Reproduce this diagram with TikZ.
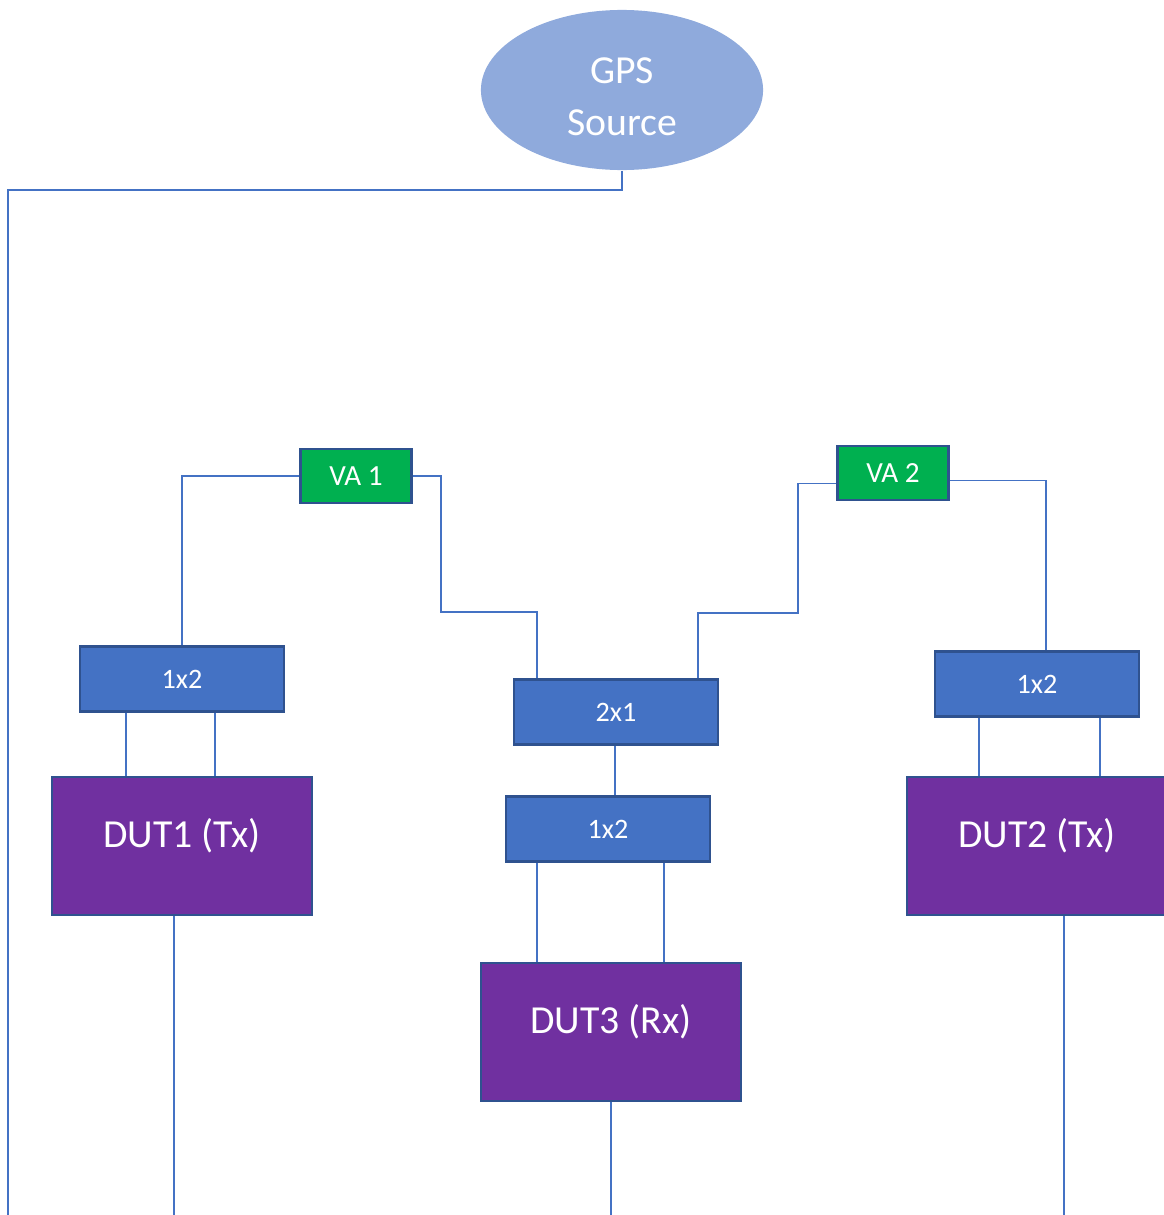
\documentclass[tikz,border=0pt]{standalone}
\usepackage{fontspec}
\setmainfont{Carlito}
\usepackage{tikz}
\usetikzlibrary{shapes.geometric,calc}
\definecolor{wireblue}{HTML}{4472C4}
\definecolor{edgeblue}{HTML}{2F528F}
\definecolor{srcblue}{HTML}{8FAADC}
\definecolor{vagreen}{HTML}{00B050}
\definecolor{dutpurple}{HTML}{7030A0}

\tikzset{
  wire/.style={wireblue,line width=.4pt},
  vabox/.style={draw=edgeblue,line width=.6pt,fill=vagreen,text=white,inner sep=0pt,minimum width=1.11cm,minimum height=.54cm,font=\fontsize{8.3}{10}\selectfont},
  splitbox/.style={draw=edgeblue,line width=.6pt,fill=wireblue,text=white,inner sep=0pt,minimum width=2.04cm,minimum height=.65cm,font=\fontsize{8}{10}\selectfont},
  dutbox/.style={draw=edgeblue,line width=.6pt,fill=dutpurple,text=white,inner sep=0pt,minimum width=2.59cm,minimum height=1.38cm,text height=8pt,text depth=7pt,font=\fontsize{11.3}{14}\selectfont}
}

\begin{document}
\begin{tikzpicture}[x=.01cm,y=-.01cm]
\useasboundingbox (0,0) rectangle (1163,1215);
\coordinate (bot) at (0,1215);
% source
\node[ellipse,fill=srcblue,inner sep=0pt,minimum width=2.82cm,minimum height=1.6cm,
  label={[text=white,align=center,yshift=-2pt,font=\fontsize{11.3}{14.8}\selectfont]center:GPS\\Source}] (gps) at (622,90) {};
\coordinate (gpsL) at (8,190);
\draw[wire] (gps.south) |- (gpsL) -- (gpsL |- bot);
% attenuators
\node[vabox] (va1) at (356,476) {VA 1};
\node[vabox] (va2) at (893,473) {VA 2};
% splitters / combiner
\node[splitbox] (splitL) at (182,679) {1x2};
\node[splitbox] (comb) at (616,712) {2x1};
\node[splitbox] (splitM) at (608,829) {1x2};
\node[splitbox] (splitR) at (1037,684) {1x2};
% devices
\node[dutbox] (dut1) at (182,846) {DUT1 (Tx)};
\node[dutbox] (dut3) at (611,1032) {DUT3 (Rx)};
\node[dutbox] (dut2) at (1037,846) {DUT2 (Tx)};
% VA 1 paths
\draw[wire] (va1.west) -| (splitL.north);
\coordinate (k1) at (441,612);
\draw[wire] (va1.east) -| (k1) -| (537,0 |- comb.north);
% VA 2 paths
\coordinate (k2) at (798,613);
\draw[wire] ([yshift=-3pt]va2.west) -| (k2) -| (698,0 |- comb.north);
\draw[wire] ([yshift=-2.2pt]va2.east) -| (1046,0 |- splitR.north);
% splitter legs
\foreach \x in {126,215}{\draw[wire] (\x,0 |- splitL.south) -- (\x,0 |- dut1.north);}
\foreach \x in {537,664}{\draw[wire] (\x,0 |- splitM.south) -- (\x,0 |- dut3.north);}
\foreach \x in {979,1100}{\draw[wire] (\x,0 |- splitR.south) -- (\x,0 |- dut2.north);}
\draw[wire] (comb.south -| 615,0) -- (615,0 |- splitM.north);
% outputs
\draw[wire] (174,0 |- dut1.south) -- (174,0 |- bot);
\draw[wire] (dut3.south) -- (dut3.south |- bot);
\draw[wire] (1064,0 |- dut2.south) -- (1064,0 |- bot);
\end{tikzpicture}
\end{document}
